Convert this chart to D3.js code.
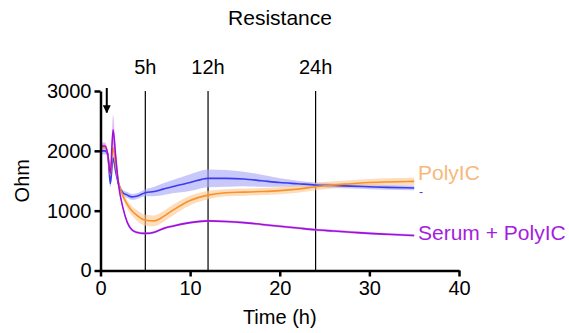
<!DOCTYPE html>
<html>
<head>
<meta charset="utf-8">
<script src="https://cdn.jsdelivr.net/npm/d3@7"></script>
<style>
  body { margin: 0; background: #fff; }
  text { font-family: "Liberation Sans", Arial, sans-serif; }
</style>
</head>
<body>
<div id="chart"></div>
<script>
// data (time in h, resistance in Ohm)
const time = [0, 0.5, 0.8, 1.1, 1.4, 1.7, 2.0, 2.5, 3, 3.5, 4, 5, 6, 7, 8, 10, 12, 14, 16, 18, 20, 22, 24, 26, 28, 30, 32, 35];
const control = [2000, 2000, 1950, 1450, 1880, 1650, 1450, 1300, 1260, 1230, 1240, 1300, 1320, 1360, 1400, 1470, 1540, 1540, 1530, 1500, 1470, 1450, 1430, 1420, 1410, 1400, 1390, 1380];
const controlErr = [60, 60, 60, 60, 60, 60, 60, 50, 50, 50, 50, 60, 80, 100, 110, 140, 150, 140, 120, 100, 70, 50, 40, 40, 40, 40, 40, 40];
const polyIC = [2060, 2060, 1950, 1600, 2060, 1750, 1480, 1250, 1100, 1000, 930, 840, 830, 900, 1000, 1170, 1260, 1300, 1310, 1320, 1335, 1360, 1400, 1430, 1450, 1470, 1480, 1490];
const polyICErr = [60, 60, 60, 80, 100, 80, 60, 60, 70, 80, 90, 90, 90, 90, 90, 80, 70, 60, 60, 60, 60, 60, 60, 60, 60, 60, 60, 60];
const serum = [2080, 2080, 1950, 1620, 2350, 1900, 1450, 1050, 800, 680, 640, 620, 640, 700, 740, 800, 830, 820, 800, 770, 740, 710, 680, 660, 640, 620, 605, 585];
const serumErr = [60, 60, 60, 80, 250, 120, 60, 30, 25, 20, 20, 20, 20, 20, 20, 20, 20, 20, 20, 20, 20, 20, 20, 20, 20, 20, 20, 20];
const xTicks = [0, 10, 20, 30, 40];
const yTicks = [0, 1000, 2000, 3000];
const markers = [5, 12, 24];
const markerLabels = ["5h", "12h", "24h"];
const arrowTime = 0.7;

const width = 569, height = 333;
const svg = d3.select('#chart').append('svg')
  .attr('width', width).attr('height', height);

const x = d3.scaleLinear().domain([0, 40]).range([100.5, 459]);
const y = d3.scaleLinear().domain([0, 3000]).range([270.5, 91]);

const series = [
  { name: '-', mean: control, err: controlErr, line: '#3b3bf2', band: '#a3a3f7', label: '#3b3bf2' },
  { name: 'PolyIC', mean: polyIC, err: polyICErr, line: '#f8922a', band: '#fbc78f', label: '#f7b87c' },
  { name: 'Serum + PolyIC', mean: serum, err: serumErr, line: '#a010dc', band: '#d190f0', label: '#a31de0' }
];

// title
svg.append('text').attr('x', 280).attr('y', 25).attr('text-anchor', 'middle')
  .style('font-size', '21px').text('Resistance');

// time markers
markers.forEach((m, i) => {
  svg.append('line')
    .attr('x1', x(m)).attr('x2', x(m))
    .attr('y1', y(3000)).attr('y2', y(0))
    .attr('stroke', '#000').attr('stroke-width', 1.2);
  svg.append('text').attr('x', x(m)).attr('y', 74).attr('text-anchor', 'middle')
    .style('font-size', '20px').text(markerLabels[i]);
});

const line = d3.line().curve(d3.curveMonotoneX);
const area = d3.area().curve(d3.curveMonotoneX);

series.forEach(s => {
  svg.append('path')
    .attr('d', area
      .x((d, i) => x(time[i]))
      .y0((d, i) => y(s.mean[i] - s.err[i]))
      .y1((d, i) => y(s.mean[i] + s.err[i]))(time))
    .attr('fill', s.band).attr('fill-opacity', 0.6);
});
series.forEach(s => {
  svg.append('path')
    .attr('d', line.x((d, i) => x(time[i])).y((d, i) => y(s.mean[i]))(time))
    .attr('fill', 'none').attr('stroke', s.line).attr('stroke-width', 1.6);
});

// series labels
svg.append('text').attr('x', 418).attr('y', 180).attr('fill', series[1].label)
  .style('font-size', '21px').text('PolyIC');
svg.append('text').attr('x', 419).attr('y', 196).attr('fill', series[0].label)
  .style('font-size', '12px').text('-');
svg.append('text').attr('x', 418).attr('y', 240).attr('fill', series[2].label)
  .style('font-size', '21px').text('Serum + PolyIC');

// axes
const fmt = d3.format('d');
const xAxis = svg.append('g').attr('transform', `translate(0,${y(0)})`)
  .call(d3.axisBottom(x).tickValues(xTicks).tickFormat(fmt).tickSize(6).tickPadding(4).tickSizeOuter(0));
const yAxis = svg.append('g').attr('transform', `translate(${x(0)},0)`)
  .call(d3.axisLeft(y).tickValues(yTicks).tickFormat(fmt).tickSize(6).tickPadding(3).tickSizeOuter(0));
[xAxis, yAxis].forEach(a => {
  a.select('.domain').attr('stroke', '#000').attr('stroke-width', 2.5);
  a.selectAll('.tick line').attr('stroke', '#000').attr('stroke-width', 2.5);
  a.selectAll('text').style('font-size', '20px').style('font-family', '"Liberation Sans", Arial, sans-serif').attr('fill', '#000');
});

// axis titles
svg.append('text').attr('x', x(20)).attr('y', 324).attr('text-anchor', 'middle')
  .style('font-size', '20px').text('Time (h)');
svg.append('text').attr('transform', `translate(29,${y(1500)}) rotate(-90)`)
  .attr('text-anchor', 'middle').style('font-size', '20px').text('Ohm');

// arrow
svg.append('defs').append('marker').attr('id', 'ah')
  .attr('viewBox', '0 0 10 10').attr('refX', 9).attr('refY', 5)
  .attr('markerWidth', 4).attr('markerHeight', 4).attr('orient', 'auto')
  .append('path').attr('d', 'M0,0L10,5L0,10Z').attr('fill', '#000');
svg.append('line').attr('x1', x(arrowTime)).attr('x2', x(arrowTime))
  .attr('y1', y(3050)).attr('y2', y(2640))
  .attr('stroke', '#000').attr('stroke-width', 2).attr('marker-end', 'url(#ah)');
</script>
</body>
</html>
